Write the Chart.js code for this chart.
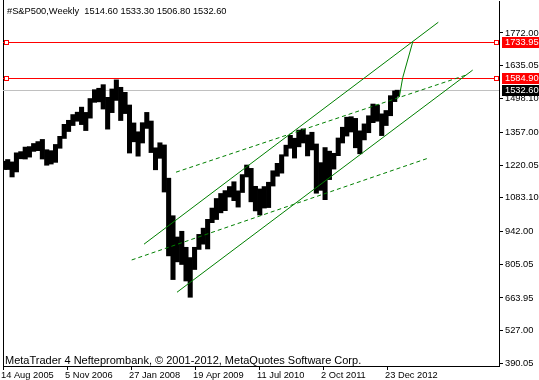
<!DOCTYPE html>
<html><head><meta charset="utf-8">
<script src="https://cdn.jsdelivr.net/npm/chart.js@4/dist/chart.umd.min.js"></script>
<style>html,body{margin:0;padding:0;background:#fff;overflow:hidden}</style>
</head><body>
<canvas id="c" width="539" height="380" style="width:539px;height:380px;display:block"></canvas>
<script>
// ---------------- data ----------------
const symbolTitle = '#S&P500,Weekly';
const lastBarOHLC = [1514.60, 1533.30, 1506.80, 1532.60];
const firstDate = '2005-08-14';
const lastDate = '2013-03-08';
const months = [
 '2005-08','2005-09','2005-10','2005-11','2005-12',
 '2006-01','2006-02','2006-03','2006-04','2006-05','2006-06','2006-07','2006-08','2006-09','2006-10','2006-11','2006-12',
 '2007-01','2007-02','2007-03','2007-04','2007-05','2007-06','2007-07','2007-08','2007-09','2007-10','2007-11','2007-12',
 '2008-01','2008-02','2008-03','2008-04','2008-05','2008-06','2008-07','2008-08','2008-09','2008-10','2008-11','2008-12',
 '2009-01','2009-02','2009-03','2009-04','2009-05','2009-06','2009-07','2009-08','2009-09','2009-10','2009-11','2009-12',
 '2010-01','2010-02','2010-03','2010-04','2010-05','2010-06','2010-07','2010-08','2010-09','2010-10','2010-11','2010-12',
 '2011-01','2011-02','2011-03','2011-04','2011-05','2011-06','2011-07','2011-08','2011-09','2011-10','2011-11','2011-12',
 '2012-01','2012-02','2012-03','2012-04','2012-05','2012-06','2012-07','2012-08','2012-09','2012-10','2012-11','2012-12',
 '2013-01','2013-02','2013-03'];
const highs = [
 1236,1243,1233,1271,1276,
 1295,1297,1310,1318,1327,1284,1280,1306,1340,1390,1407,1431,
 1441,1462,1440,1498,1535,1541,1556,1503,1538,1576,1545,1524,
 1471,1396,1359,1397,1440,1404,1292,1313,1304,1165,1008,919,
 943,876,833,876,930,956,993,1040,1080,1101,1113,1130,
 1150,1112,1180,1220,1206,1131,1120,1130,1148,1196,1227,1263,
 1303,1344,1332,1366,1371,1346,1357,1308,1230,1293,1278,1269,
 1333,1378,1420,1422,1415,1363,1392,1426,1475,1471,1434,1448,
 1510,1530,1533];
const lows = [
 1201,1201,1170,1191,1246,
 1245,1253,1277,1280,1245,1219,1224,1231,1290,1331,1360,1385,
 1403,1389,1364,1416,1482,1484,1454,1370,1439,1490,1406,1435,
 1270,1317,1257,1312,1373,1272,1200,1248,1107,840,741,815,
 804,735,667,783,867,889,869,979,992,1020,1029,1086,
 1071,1044,1105,1170,1066,1028,1011,1040,1042,1132,1173,1186,
 1257,1290,1249,1296,1312,1258,1283,1102,1114,1075,1159,1203,
 1259,1312,1341,1358,1292,1267,1325,1355,1397,1403,1343,1385,
 1426,1485,1507];
const xTickLabels = ['14 Aug 2005','5 Nov 2006','27 Jan 2008','19 Apr 2009','11 Jul 2010','2 Oct 2011','23 Dec 2012'];
const yTickValues = [1772.00,1635.05,1498.10,1357.00,1220.05,1083.10,942.00,805.05,663.95,527.00,390.05];
const redLevels = [1733.95, 1584.90];
const bidLevel = 1532.60;
// trend lines: [week index since first bar, price]
const channelUpper = [[141.0, 889], [435.3, 1817]];
const channelLower = [[174.0, 688], [469.7, 1617]];
const dashUpper = [[173.0, 1190], [463.0, 1596]];
const dashLower = [[128.7, 823], [424.7, 1248]];
const projection = [[396.3, 1504], [399.7, 1585], [409.7, 1734]];
const watermark = 'MetaTrader 4 Nefteprombank, \u00A9 2001-2012, MetaQuotes Software Corp.';

// ---------------- helpers ----------------
const DAY = 86400000;
const MON = {Jan:0,Feb:1,Mar:2,Apr:3,May:4,Jun:5,Jul:6,Aug:7,Sep:8,Oct:9,Nov:10,Dec:11};
const isoMs = s => { const [y,m,d] = s.split('-').map(Number); return Date.UTC(y, m-1, d); };
const t0 = isoMs(firstDate), tEnd = isoMs(lastDate);
const weekOf = ms => (ms - t0) / (7*DAY);
const xTickWeeks = xTickLabels.map(l => { const [d,m,y] = l.split(' '); return weekOf(Date.UTC(+y, MON[m], +d)); });
const barData = months.map((m, i) => {
  const [yy, mm] = m.split('-').map(Number);
  const s = Math.max(Date.UTC(yy, mm-1, 1), t0);
  const e = Math.min(Date.UTC(yy, mm, 1), tEnd);
  return {x: weekOf((s+e)/2), y: [lows[i], highs[i]]};
});
const toPts = arr => arr.map(([x, y]) => ({x, y}));
const GREEN = '#008000';
const FONT = '"Liberation Sans", Arial, sans-serif';
const lineDs = (arr, dash) => ({type:'line', data: toPts(arr), borderColor: GREEN, borderWidth: 1,
  borderDash: dash || [], pointRadius: 0, fill: false, tension: 0, order: 0});

const deco = {
  id: 'deco',
  beforeDraw(chart) {
    const c = chart.ctx; c.save(); c.fillStyle = '#fff'; c.fillRect(0, 0, chart.width, chart.height); c.restore();
  },
  beforeDatasetsDraw(chart) {
    const {ctx: c, chartArea: a, scales: {y}} = chart;
    c.save();
    c.lineWidth = 1;
    c.strokeStyle = '#000';
    c.beginPath(); c.moveTo(a.left + 0.5, 0); c.lineTo(a.left + 0.5, a.bottom); c.stroke();
    const py = Math.round(y.getPixelForValue(bidLevel)) + 0.5;
    c.strokeStyle = '#c0c0c0';
    c.beginPath(); c.moveTo(a.left, py); c.lineTo(a.right, py); c.stroke();
    c.strokeStyle = '#ff0000';
    redLevels.forEach(v => {
      const p = Math.round(y.getPixelForValue(v)) + 0.5;
      c.beginPath(); c.moveTo(a.left, p); c.lineTo(a.right, p); c.stroke();
    });
    c.restore();
  },
  afterDraw(chart) {
    const {ctx: c, chartArea: a, scales: {y}} = chart;
    c.save();
    redLevels.forEach(v => {
      const p = Math.round(y.getPixelForValue(v));
      [a.left + 1, a.right - 5].forEach(x0 => {
        c.fillStyle = '#fff'; c.fillRect(x0, p - 2, 4, 4);
        c.strokeStyle = '#ff0000'; c.lineWidth = 1; c.strokeRect(x0 + 0.5, p - 1.5, 4, 4);
      });
    });
    c.font = '9.3px ' + FONT; c.textBaseline = 'middle'; c.textAlign = 'left';
    const box = (v, bg) => {
      const p = Math.round(y.getPixelForValue(v));
      c.fillStyle = bg; c.fillRect(a.right + 3, p - 5, chart.width - a.right - 3, 11);
      c.fillStyle = '#fff'; c.fillText(v.toFixed(2), a.right + 6, p + 0.5);
    };
    redLevels.forEach(v => box(v, '#ff0000'));
    box(bidLevel, '#000');
    c.fillStyle = '#000'; c.textBaseline = 'alphabetic';
    c.fillText(symbolTitle + '  ' + lastBarOHLC.map(v => v.toFixed(2)).join(' '), 7, 14);
    c.font = '11px ' + FONT;
    c.fillText(watermark, 5, a.bottom - 2);
    c.restore();
  }
};

new Chart(document.getElementById('c'), {
  type: 'bar',
  data: {
    datasets: [
      lineDs(channelUpper), lineDs(channelLower), lineDs(dashUpper, [4,3]), lineDs(dashLower, [4,3]), lineDs(projection),
      {type:'bar', data: barData, backgroundColor: '#000', borderWidth: 0, barThickness: 4.4, order: 1}
    ]
  },
  options: {
    responsive: false, animation: false, devicePixelRatio: 1,
    layout: {padding: {left: 3, top: 1, right: 0, bottom: 0}, autoPadding: false},
    plugins: {legend: {display: false}, tooltip: {enabled: false}},
    scales: {
      x: {
        type: 'linear', min: 0, max: 496, offset: false, position: 'bottom',
        grid: {display: true, drawOnChartArea: false, drawTicks: true, tickLength: 4, color: '#000', offset: false},
        border: {display: true, color: '#000'},
        ticks: {autoSkip: false, maxRotation: 0, align: 'start', padding: 0, labelOffset: -2, color: '#000',
          font: {family: FONT, size: 9.3}, callback: (v, i) => xTickLabels[i]},
        afterBuildTicks: s => { s.ticks = xTickWeeks.map(v => ({value: v})); },
        afterFit: s => { s.height = 14; s.paddingLeft = 0; s.paddingRight = 0; }
      },
      y: {
        type: 'linear', position: 'right', min: 379.6, max: 1905.8,
        grid: {display: true, drawOnChartArea: false, drawTicks: true, tickLength: 4, color: '#000'},
        border: {display: true, color: '#000'},
        ticks: {padding: 2, color: '#000', font: {family: FONT, size: 9.3}, callback: v => v.toFixed(2)},
        afterBuildTicks: s => { s.ticks = yTickValues.map(v => ({value: v})); },
        afterFit: s => { s.width = 40; s.paddingTop = 0; s.paddingBottom = 0; }
      }
    }
  },
  plugins: [deco]
});
</script>
</body></html>
